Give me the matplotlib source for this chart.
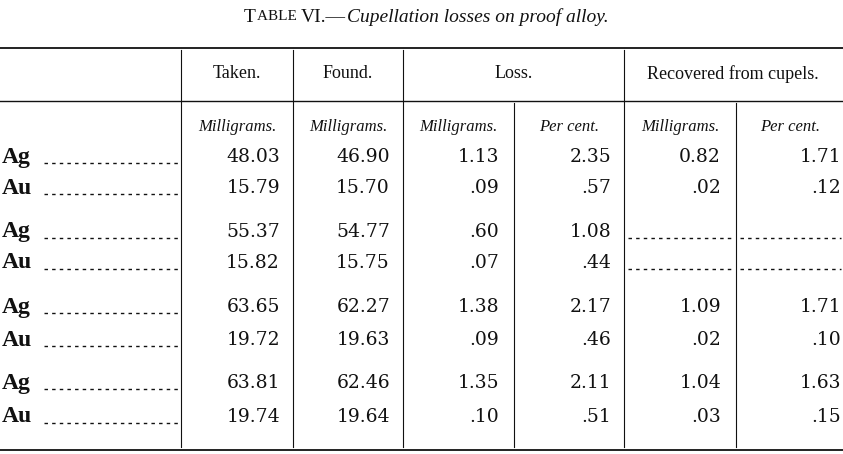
import matplotlib
matplotlib.use("Agg")
import matplotlib.pyplot as plt

elements = ["Ag", "Au", "Ag", "Au", "Ag", "Au", "Ag", "Au"]
taken = ["48.03", "15.79", "55.37", "15.82", "63.65", "19.72", "63.81", "19.74"]
found = ["46.90", "15.70", "54.77", "15.75", "62.27", "19.63", "62.46", "19.64"]
loss_mg = ["1.13", ".09", ".60", ".07", "1.38", ".09", "1.35", ".10"]
loss_pct = ["2.35", ".57", "1.08", ".44", "2.17", ".46", "2.11", ".51"]
rec_mg = ["0.82", ".02", None, None, "1.09", ".02", "1.04", ".03"]
rec_pct = ["1.71", ".12", None, None, "1.71", ".10", "1.63", ".15"]
headers = ["Taken.", "Found.", "Loss.", "Recovered from cupels."]
subheaders = ["Milligrams.", "Milligrams.", "Milligrams.", "Per cent.", "Milligrams.", "Per cent."]

fig = plt.figure(figsize=(8.43, 4.54), dpi=100)
ax = fig.add_axes([0, 0, 1, 1])
ax.set_xlim(0, 843); ax.set_ylim(454, 0); ax.axis("off")
F = "Liberation Serif"
N = "DejaVu Serif"
ink = "#111111"

# title (small caps imitation)
fig.canvas.draw()
r = fig.canvas.get_renderer()
x = 244
for s, fs, st in [("T", 14, "normal"), ("ABLE ", 11, "normal"), ("VI.—", 14, "normal"),
                  ("Cupellation losses on proof alloy.", 14, "italic")]:
    t = ax.text(x, 17, s, fontsize=fs, family=F, style=st, va="baseline" if False else "center", color=ink)
    bb = t.get_window_extent(renderer=r)
    x += bb.width + (1 if s != "ABLE " else 0)

# lines
ax.plot([0, 843], [48, 48], color=ink, lw=1.3)
ax.plot([0, 843], [450, 450], color=ink, lw=1.3)
ax.plot([0, 843], [101, 101], color=ink, lw=1.0)
for xv in [181, 293, 403, 624]:
    ax.plot([xv, xv], [50, 447], color=ink, lw=0.8)
for xv in [514, 736]:
    ax.plot([xv, xv], [103, 447], color=ink, lw=0.8)

# headers
for xv, h in zip([237, 348, 514, 733], headers):
    ax.text(xv, 74, h, fontsize=13, family=F, ha="center", va="center", color=ink)
for xv, h in zip([237, 348, 458, 569, 680, 790], subheaders):
    ax.text(xv, 127, h, fontsize=12, family=F, style="italic", ha="center", va="center", color=ink)

rows_y = [157, 188, 232, 263, 307, 340, 383, 417]
cols = [(280, taken), (390, found), (499, loss_mg), (611, loss_pct), (721, rec_mg), (841, rec_pct)]
for i, y in enumerate(rows_y):
    ax.text(2, y, elements[i], fontsize=17, family=F, weight="bold", va="center", color=ink)
    ax.plot([44, 178], [y + 6, y + 6], color=ink, lw=1.0, ls=(0, (2.5, 3)))
    for xv, vals in cols:
        v = vals[i]
        if v is None:
            continue
        ax.text(xv, y, v, fontsize=13.5, family=N, ha="right", va="center", color=ink)
    if rec_mg[i] is None:
        ax.plot([628, 733], [y + 6, y + 6], color=ink, lw=1.0, ls=(0, (2.5, 3)))
        ax.plot([740, 841], [y + 6, y + 6], color=ink, lw=1.0, ls=(0, (2.5, 3)))

fig.savefig("out.png", dpi=100, facecolor="white")
